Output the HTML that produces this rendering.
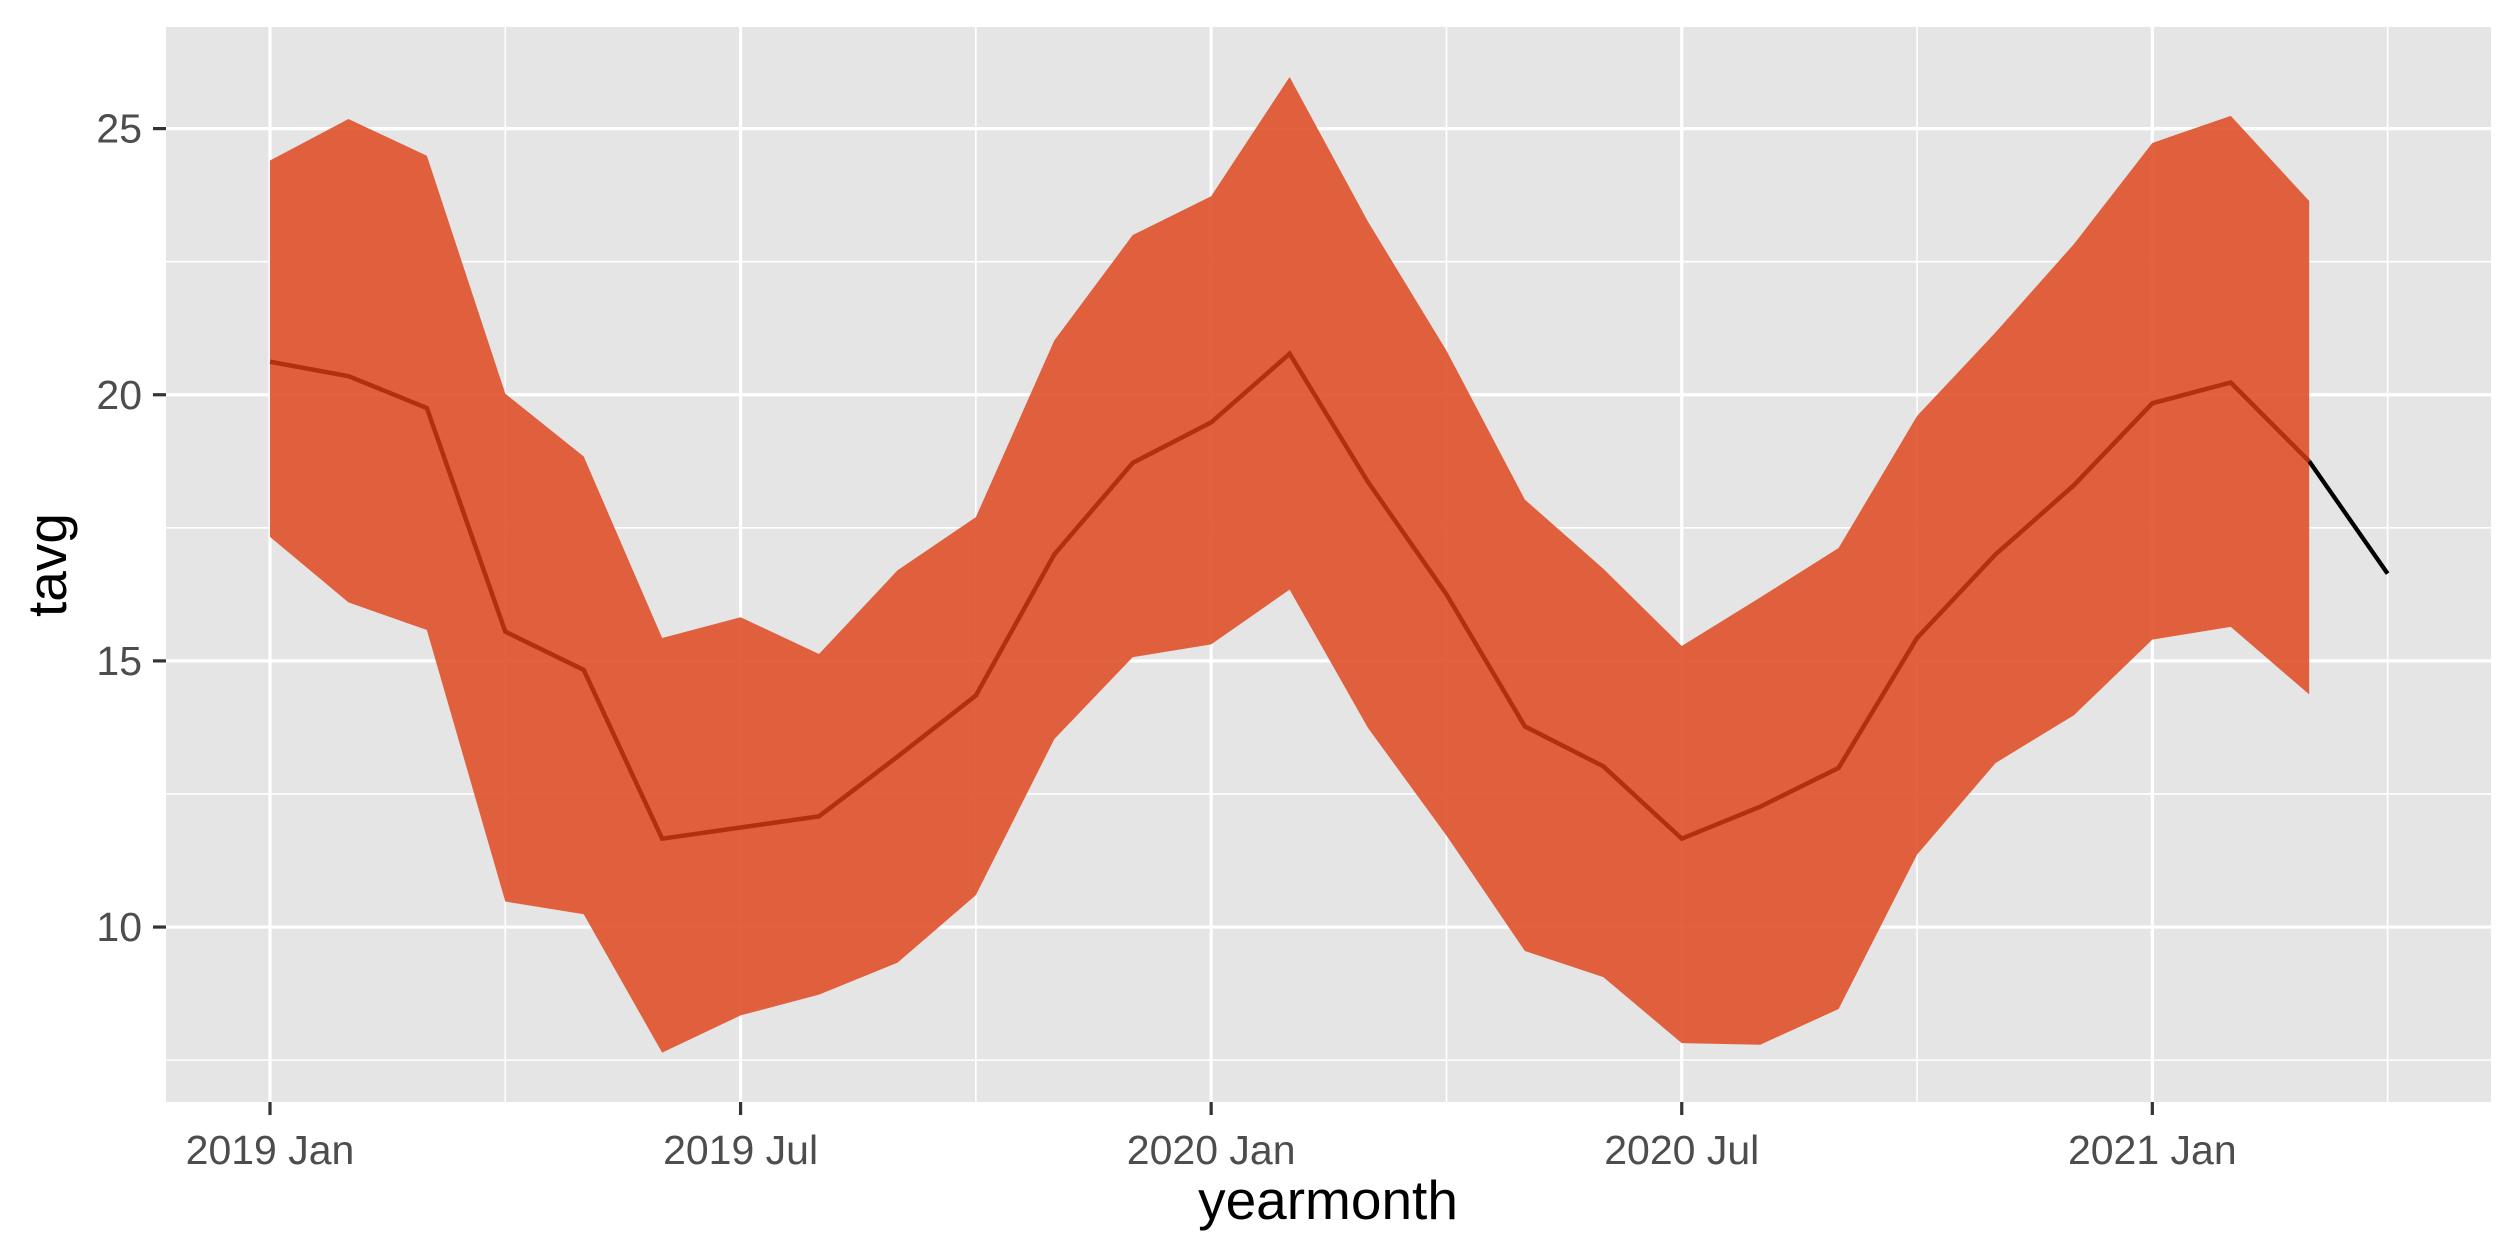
<!DOCTYPE html>
<html><head><meta charset="utf-8"><style>
html,body{margin:0;padding:0;background:#fff;}
svg{display:block;font-family:"Liberation Sans",sans-serif;}
</style></head><body>
<svg id="chart" width="2520" height="1260">
<rect x="166" y="27" width="2325" height="1075" fill="#E5E5E5"/>
<g id="grid"></g><g id="marks"></g><g id="axes"></g>
<text x="1328" y="1219" font-size="55" text-anchor="middle" fill="#000">yearmonth</text>
<text transform="translate(66,565) rotate(-90)" font-size="55" text-anchor="middle" fill="#000">tavg</text>
</svg>
<script>
const months = ["2019-01","2019-02","2019-03","2019-04","2019-05","2019-06","2019-07","2019-08","2019-09","2019-10","2019-11","2019-12","2020-01","2020-02","2020-03","2020-04","2020-05","2020-06","2020-07","2020-08","2020-09","2020-10","2020-11","2020-12","2021-01","2021-02","2021-03","2021-04"];
const meanVals = [20.62,20.35,19.75,15.55,14.83,11.66,11.87,12.08,13.2,14.35,17.0,18.72,19.48,20.77,18.36,16.25,13.77,13.02,11.66,12.26,12.99,15.43,17.0,18.3,19.84,20.23,18.75,16.64];
const upperVals = [24.4,25.18,24.49,20.02,18.84,15.43,15.82,15.13,16.7,17.7,21.02,23.0,23.73,25.97,23.25,20.83,18.03,16.73,15.28,16.19,17.12,19.6,21.17,22.83,24.73,25.24,23.64];
const lowerVals = [17.33,16.1,15.58,10.48,10.24,7.64,8.34,8.73,9.33,10.6,13.53,15.07,15.31,16.34,13.74,11.72,9.55,9.06,7.82,7.79,8.46,11.36,13.08,13.98,15.4,15.64,14.37];
const yTicks = [10,15,20,25];
const yMinor = [7.5,12.5,17.5,22.5];
const xTickLabels = ["2019 Jan","2019 Jul","2020 Jan","2020 Jul","2021 Jan"];
const xTickIdx = [0,6,12,18,24];
const xMinorIdx = [3,9,15,21,27];

const NS="http://www.w3.org/2000/svg";
const X=i=>270+i*78.43;
const Y=v=>128.6+(25-v)*53.23;
function mk(tag,attrs,parent){const e=document.createElementNS(NS,tag);for(const k in attrs)e.setAttribute(k,attrs[k]);parent.appendChild(e);return e;}
const grid=document.getElementById('grid'),marks=document.getElementById('marks'),axes=document.getElementById('axes');
yMinor.forEach(v=>{const l=mk('line',{x1:166,x2:2491,y1:Y(v),y2:Y(v),stroke:'#fff','stroke-width':1.6},grid);

});
xMinorIdx.forEach(i=>{const l=mk('line',{x1:X(i),x2:X(i),y1:27,y2:1102,stroke:'#fff','stroke-width':1.6},grid);

});
yTicks.forEach(v=>{const l=mk('line',{x1:166,x2:2491,y1:Y(v),y2:Y(v),stroke:'#fff','stroke-width':3.2},grid);


const t=mk('line',{x1:153,x2:166,y1:Y(v),y2:Y(v),stroke:'#333','stroke-width':3.2},axes);


const tx=mk('text',{x:142,y:Y(v)+14,'font-size':41,'text-anchor':'end',fill:'#4D4D4D'},axes);tx.textContent=v;

});
xTickIdx.forEach((i,k)=>{const l=mk('line',{x1:X(i),x2:X(i),y1:27,y2:1102,stroke:'#fff','stroke-width':3.2},grid);


const t=mk('line',{x1:X(i),x2:X(i),y1:1102,y2:1115,stroke:'#333','stroke-width':3.2},axes);


const tx=mk('text',{x:X(i),y:1164,'font-size':41,'text-anchor':'middle',fill:'#4D4D4D'},axes);tx.textContent=xTickLabels[k];

});
let pts=upperVals.map((v,i)=>X(i)+','+Y(v));
for(let i=lowerVals.length-1;i>=0;i--)pts.push(X(i)+','+Y(lowerVals[i]));
const band=mk('polygon',{points:pts.join(' '),fill:'#E0552F','fill-opacity':0.93},marks);


const n=upperVals.length;
const lineB=mk('polyline',{points:meanVals.slice(n-1).map((v,j)=>X(n-1+j)+','+Y(v)).join(' '),fill:'none',stroke:'#000','stroke-width':4.3},marks);


const lineA=mk('polyline',{points:meanVals.slice(0,n).map((v,i)=>X(i)+','+Y(v)).join(' '),fill:'none',stroke:'#B3300E','stroke-width':4.5},marks);


</script>
</body></html>
